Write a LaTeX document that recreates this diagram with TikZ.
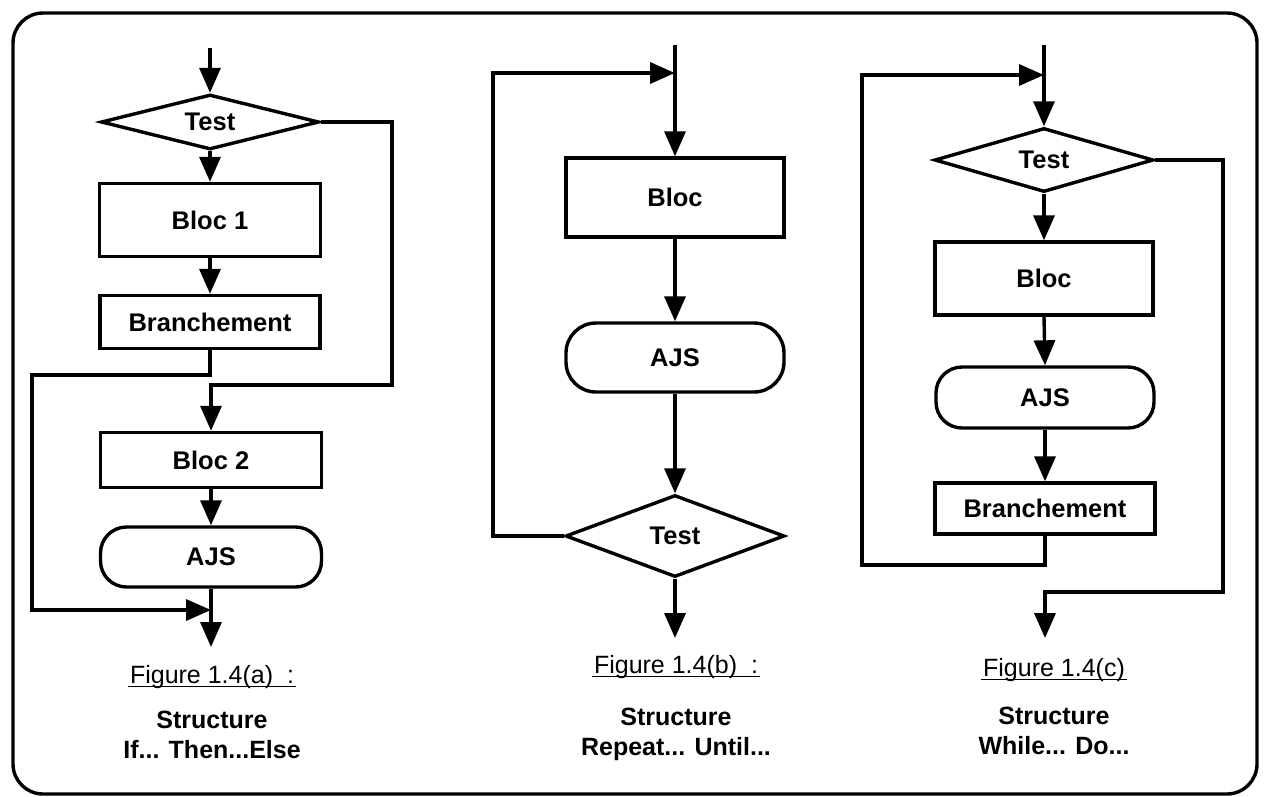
\documentclass[tikz,border=0pt]{standalone}
\usepackage{fontspec}
\setmainfont{Liberation Sans}
\usetikzlibrary{arrows.meta,shapes.geometric}
\newcommand\lblfont{\fontsize{25.5}{30}\selectfont\bfseries}
\newcommand\capfont{\fontsize{25}{30}\selectfont}
\begin{document}
\begin{tikzpicture}[x=1pt,y=-1pt,line width=3.4pt,
  box/.style={draw,rectangle,inner sep=0pt,font=\lblfont},
  term/.style={draw,rectangle,rounded corners=26pt,inner sep=0pt,font=\lblfont},
  dec/.style={draw,diamond,shape aspect=4,inner sep=0pt,font=\lblfont},
  arr/.style={-{Triangle[length=25pt,width=21pt]}},
  figcap/.style={font=\capfont,inner sep=0pt},
  uline/.style={line width=1.6pt},
  subcap/.style={font=\capfont\bfseries,align=center,inner sep=0pt}]
\useasboundingbox (0,0) rectangle (1266,796);
\draw[rounded corners=30pt] (13,13) rectangle (1257,794);

% ---------- (a) If Then Else ----------
\coordinate (aStart) at (210,48);
\node[dec,minimum width=218pt,minimum height=55pt] (aTest) at (210,122) {Test};
\node[box,minimum width=221pt,minimum height=73pt] (aB1) at (210,220) {Bloc 1};
\node[box,minimum width=220pt,minimum height=53pt] (aBr) at (210,322) {Branchement};
\node[box,minimum width=221pt,minimum height=55pt] (aB2) at (211,460) {Bloc 2};
\node[term,minimum width=221pt,minimum height=60pt] (aAJS) at (211,557) {AJS};
\coordinate (aJ) at (211,610);
\coordinate (aEnd) at (211,647);
\coordinate (aL) at (32,375);
\coordinate (aR) at (392,385);
\draw[arr] (aStart) -- (aTest.north);
\draw[arr] (aTest.south) -- (aB1.north);
\draw[arr] (aB1.south) -- (aBr.north);
\draw[arr] (aBr.south) |- (aL) |- (aJ);
\draw[arr] (aTest.east) -| (aR) -| (aB2.north);
\draw[arr] (aB2.south) -- (aAJS.north);
\draw[arr] (aAJS.south) -- (aEnd);
\node[figcap] (aFig) at (212,677) {Figure 1.4(a)\ \ :};
\draw[uline] ([yshift=-3pt]aFig.base west) -- ([yshift=-3pt]aFig.base east);
\node[subcap] (aSub) at (212,735) {Structure\\If... Then...Else};

% ---------- (b) Repeat Until ----------
\coordinate (bStart) at (675,45);
\coordinate (bJ) at (675,73);
\node[box,minimum width=218pt,minimum height=79pt] (bBloc) at (675,197.5) {Bloc};
\node[term,minimum width=218pt,minimum height=69pt,rounded corners=30pt] (bAJS) at (675,357.5) {AJS};
\node[dec,minimum width=219pt,minimum height=82pt,shape aspect=2.7] (bTest) at (675,536) {Test};
\coordinate (bEnd) at (675,638);
\coordinate (bL) at (493,73);
\draw[arr] (bStart) -- (bBloc.north);
\draw[arr] (bBloc.south) -- (bAJS.north);
\draw[arr] (bAJS.south) -- (bTest.north);
\draw[arr] (bTest.west) -| (bL) -- (bJ);
\draw[arr] (bTest.south) -- (bEnd);
\node[figcap] (bFig) at (676,667) {Figure 1.4(b)\ \ :};
\draw[uline] ([yshift=-3pt]bFig.base west) -- ([yshift=-3pt]bFig.base east);
\node[subcap] (bSub) at (676,734) {Structure\\Repeat... Until...};

% ---------- (c) While Do ----------
\coordinate (cStart) at (1044,45);
\coordinate (cJ) at (1044,75);
\node[dec,minimum width=219pt,minimum height=64pt,shape aspect=3.4] (cTest) at (1044,160) {Test};
\node[box,minimum width=218pt,minimum height=73pt] (cBloc) at (1044,278.5) {Bloc};
\node[term,minimum width=218pt,minimum height=61pt] (cAJS) at (1045,397.5) {AJS};
\node[box,minimum width=220pt,minimum height=51pt] (cBr) at (1045,508.5) {Branchement};
\coordinate (cL) at (862,565);
\coordinate (cR) at (1223,592);
\coordinate (cEnd) at (1045,638);
\draw[arr] (cStart) -- (cTest.north);
\draw[arr] (cTest.south) -- (cBloc.north);
\draw[arr] (cBloc.south) -- (cAJS.north);
\draw[arr] (cAJS.south) -- (cBr.north);
\draw[arr] (cBr.south) |- (cL) |- (cJ);
\draw[arr] (cTest.east) -| (cR) -| (cEnd);
\node[figcap] (cFig) at (1054,670) {Figure 1.4(c)};
\draw[uline] ([yshift=-3pt]cFig.base west) -- ([yshift=-3pt]cFig.base east);
\node[subcap] (cSub) at (1054,731) {Structure\\While... Do...};
\end{tikzpicture}
\end{document}
